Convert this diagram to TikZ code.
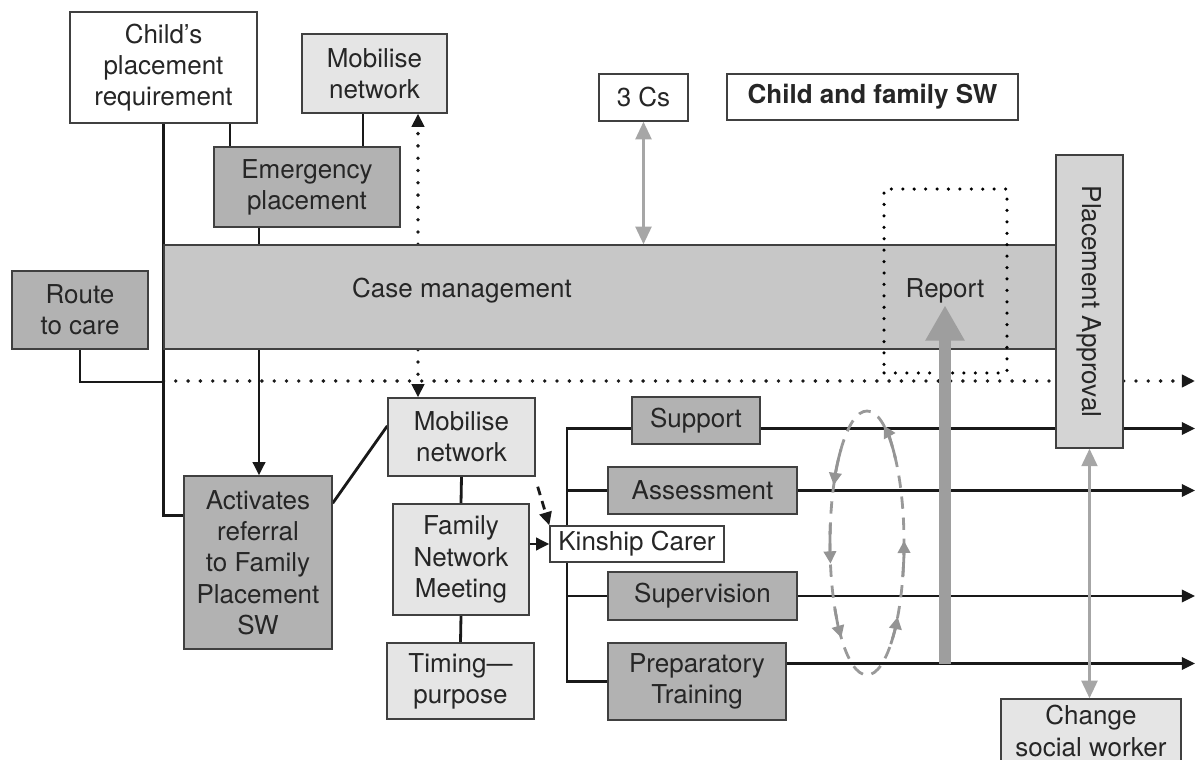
\documentclass[tikz,border=0pt]{standalone}
\usepackage{fontspec}
\setmainfont{TeX Gyre Heros}
\usepackage{graphicx}
\usetikzlibrary{arrows.meta,calc,backgrounds}

\newcommand{\boxfont}{\fontsize{14.8}{17.8}\selectfont}

\tikzset{
  >={Triangle[width=7pt,length=7.5pt]},
  box/.style={draw=black!75, line width=0.8pt, inner sep=0pt, align=center, font=\boxfont, text=black!85},
  darkbox/.style={box, fill=black!30},
  lightbox/.style={box, fill=black!10},
  whitebox/.style={box, fill=white},
  wire/.style={line width=1.6pt, draw=black!90},
  dotwire/.style={line width=2.2pt, line cap=round, dash pattern=on 0pt off 7pt},
  grayarrow/.style={line width=1.6pt, draw=black!35, {Triangle[width=9pt,length=10pt]}-{Triangle[width=9pt,length=10pt]}},
  looparrow/.style={line width=1.6pt, draw=black!42, -{Triangle[width=7pt,length=7pt]}},
}

\begin{document}
\begin{tikzpicture}[x=0.02cm, y=-0.02cm]
  \useasboundingbox (0,0) rectangle (1198,760);

  % top row
  \node[whitebox, minimum width=3.74cm, minimum height=2.22cm] (need) at (163.5,67.5) {Child’s\\placement\\requirement};
  \node[lightbox, minimum width=2.9cm, minimum height=1.58cm] (mobtop) at (374.5,73.5) {Mobilise\\network};
  \node[darkbox, minimum width=3.72cm, minimum height=1.6cm] (emerg) at (307,187) {Emergency\\placement};
  \node[whitebox, minimum width=1.78cm, minimum height=0.94cm] (threecs) at (643.5,97.5) {3 Cs};
  \node[whitebox, minimum width=5.82cm, minimum height=0.92cm, font=\boxfont\bfseries] (cfsw) at (872.5,97) {Child and family SW};

  % case management bar
  \node[box, fill=black!22, minimum width=17.84cm, minimum height=2.08cm] (case) at (610,297) {};
  \node[font=\boxfont, text=black!85] (casetext) at (462,291) {Case management};
  \node[box, fill=black!17, minimum width=1.34cm, minimum height=5.86cm] (approval) at (1089.5,301.5) {\rotatebox{-90}{Placement Approval}};
  \node[darkbox, minimum width=2.72cm, minimum height=1.56cm] (route) at (80,310) {Route\\to care};
  \node[draw=black, line width=2pt, line cap=round, dash pattern=on 0pt off 6.5pt, minimum width=2.46cm, minimum height=3.68cm] (repbox) at (945.5,281) {};
  \node[font=\boxfont, text=black!85, inner sep=1pt] (reptext) at (945,291) {Report};

  % family network side
  \node[darkbox, minimum width=2.96cm, minimum height=3.46cm] (activ) at (258,562.5) {Activates\\referral\\to Family\\Placement\\SW};
  \node[lightbox, minimum width=2.94cm, minimum height=1.56cm] (mobnet) at (461.5,437) {Mobilise\\network};
  \node[lightbox, minimum width=2.72cm, minimum height=2.22cm] (fnm) at (461,559.5) {Family\\Network\\Meeting};
  \node[lightbox, minimum width=2.94cm, minimum height=1.52cm] (timing) at (460.5,681) {Timing—\\purpose};
  \node[whitebox, minimum width=3.48cm, minimum height=0.72cm] (kin) at (637,544) {Kinship Carer};

  % carer tasks
  \node[darkbox, minimum width=2.56cm, minimum height=0.94cm] (support) at (696,420.5) {Support};
  \node[darkbox, minimum width=3.78cm, minimum height=0.94cm] (assess) at (702.5,490.5) {Assessment};
  \node[darkbox, minimum width=3.78cm, minimum height=0.96cm] (superv) at (702.5,596) {Supervision};
  \node[darkbox, minimum width=3.56cm, minimum height=1.54cm] (prep) at (697,681.5) {Preparatory\\Training};
  \node[lightbox, minimum width=3.6cm, minimum height=1.28cm] (change) at (1091,731) {Change\\social worker};
  \coordinate (rim) at (1195,0);

  \begin{scope}[on background layer]
    \draw[wire] (need.south) |- ($(activ.north west)!0.23!(activ.south west)$); % left spine
    \draw[wire] (230,0 |- need.south) -- (230,0 |- emerg.north);
    \draw[wire] (363,0 |- mobtop.south) -- (363,0 |- emerg.north);
    \draw[wire] (259,0 |- emerg.south) -- (259,0 |- case.north);
    \draw[wire,->] (259,0 |- case.south) -- (259,0 |- activ.north);
    \draw[wire] (route.south) |- (need.south |- 0,382);
    \draw[wire,dotwire] (need.south |- 0,381) -- (approval.west |- 0,381); % dotted timeline
    \draw[wire,dotwire,->] (approval.east |- 0,381) -- (rim |- 0,381);
    \draw[wire,dotwire,->] (418,0 |- case.north) -- (418,0 |- mobtop.south);
    \draw[wire,dotwire,->] (418,0 |- case.south) -- (418,0 |- mobnet.north);
    \draw[wire] ($(activ.north east)!0.16!(activ.south east)$) -- ($(mobnet.north west)!0.36!(mobnet.south west)$);
    \draw[wire] (mobnet.south) -- (fnm.north);
    \draw[wire] (fnm.south) -- (timing.north);
    \draw[wire,->] (fnm.east |- kin.west) -- (kin.west);
    \draw[wire,dash pattern=on 5pt off 3.5pt,->] ($(mobnet.south east)+(2,10)$) -- (kin.north west);
    % bracket to tasks
    \draw[wire] ($(support.west)+(0,8)$) -| (567,0 |- prep.west) -- (prep.west);
    \draw[wire] (assess.west) -- (assess.west -| 567,0);
    \draw[wire] (superv.west) -- (superv.west -| 567,0);
    % task lines
    \draw[wire] ($(support.east)+(0,8)$) -- (approval.west |- 0,428.5);
    \draw[wire,->] (approval.east |- 0,428.5) -- (rim |- 0,428.5);
    \draw[wire,->] (assess.east) -- (assess.east -| rim);
    \draw[wire,->] (superv.east) -- (superv.east -| rim);
    \draw[wire,->] ($(prep.east)+(0,-18)$) coordinate (prepout) -- (prepout -| rim);
  \end{scope}

  % gray arrows
  \draw[grayarrow] (threecs.south) -- (threecs.south |- case.north);
  \draw[grayarrow] (approval.south) -- (approval.south |- change.north);
  \draw[line width=6.8pt, draw=black!38, -{Triangle[width=21pt,length=20pt]}] (reptext.south |- prepout) -- (reptext.south);

  % feedback loop
  \draw[black!40, line width=1.6pt, dash pattern=on 7pt off 5pt] (867,543) ellipse [x radius=37, y radius=132];
  \foreach \a/\b in {-40/-63, -135/-154, -172/-189, -210/-226, -345/-361, -310/-326}
    \draw[looparrow] (867,543) ++(\a:37 and 132) arc[start angle=\a, end angle=\b, x radius=37, y radius=132];
\end{tikzpicture}
\end{document}
